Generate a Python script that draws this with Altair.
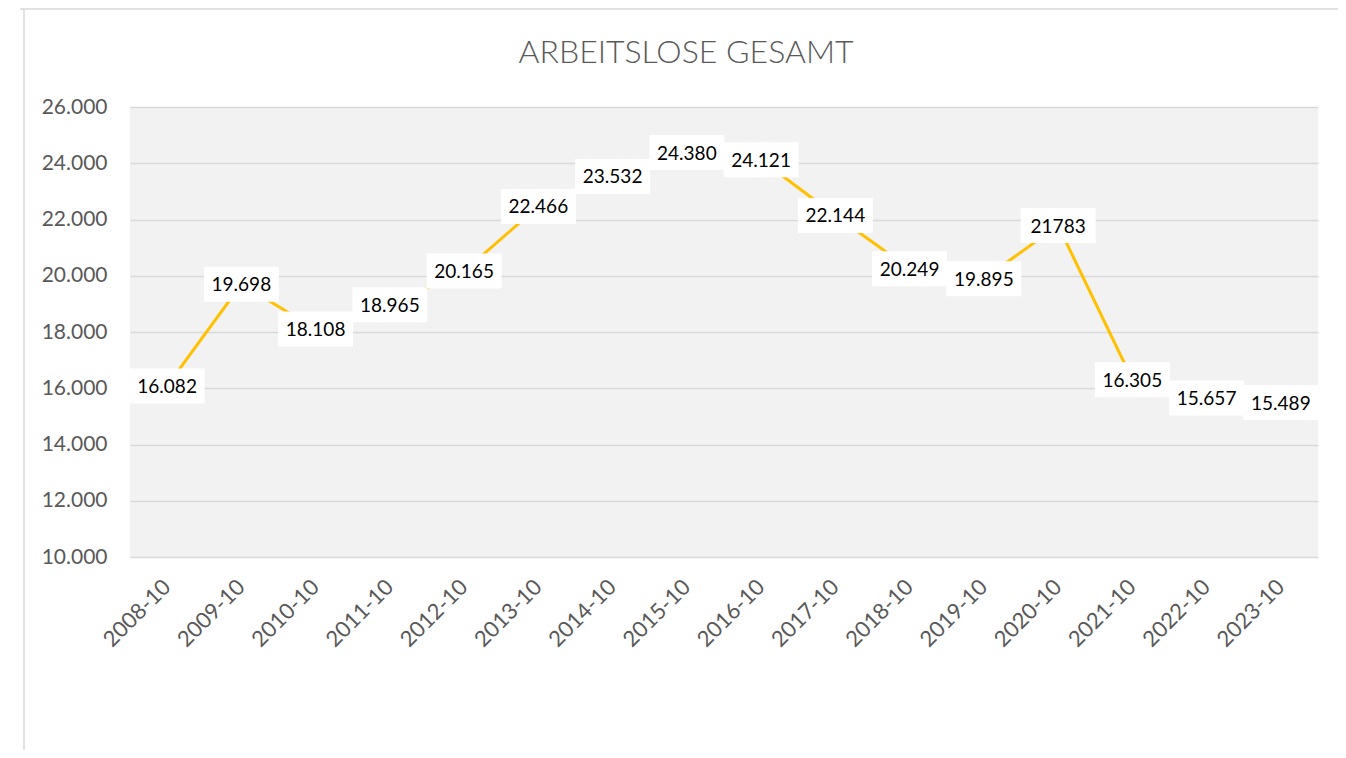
import altair as alt
import pandas as pd

months = ["2008-10", "2009-10", "2010-10", "2011-10", "2012-10", "2013-10", "2014-10", "2015-10",
          "2016-10", "2017-10", "2018-10", "2019-10", "2020-10", "2021-10", "2022-10", "2023-10"]
values = [16082, 19698, 18108, 18965, 20165, 22466, 23532, 24380,
          24121, 22144, 20249, 19895, 21783, 16305, 15657, 15489]
labels = ["16.082", "19.698", "18.108", "18.965", "20.165", "22.466", "23.532", "24.380",
          "24.121", "22.144", "20.249", "19.895", "21783", "16.305", "15.657", "15.489"]
y_ticks = [10000, 12000, 14000, 16000, 18000, 20000, 22000, 24000, 26000]
title_text = "ARBEITSLOSE GESAMT"

df = pd.DataFrame({"month": months, "value": values, "label": labels})

FONT = "Lato"
GRAY = "#595959"

x_enc = alt.X(
    "month:N", sort=months,
    scale=alt.Scale(paddingInner=0, paddingOuter=0),
    axis=alt.Axis(title=None, labelAngle=-45, labelAlign="right", labelBaseline="middle",
                  labelFontSize=22, labelColor=GRAY, labelFont=FONT, labelPadding=26,
                  ticks=False, domain=False, grid=False),
)
y_enc = alt.Y(
    "value:Q",
    scale=alt.Scale(domain=[10000, 26000], nice=False, zero=False),
    axis=alt.Axis(title=None, values=y_ticks, labelExpr="format(datum.value/1000, '.3f')",
                  labelFontSize=21, labelColor=GRAY, labelFont=FONT, labelPadding=23,
                  ticks=False, domain=False, gridColor="#D9D9D9", gridWidth=1.5),
)

base = alt.Chart(df)
line = base.mark_line(color="#FFC000", strokeWidth=3).encode(x=x_enc, y=y_enc)
boxes = base.mark_rect(color="white", width=75, height=35).encode(
    x=alt.X("month:N", sort=months), y=alt.Y("value:Q"))
texts = base.mark_text(font=FONT, fontSize=19, color="black", baseline="middle", dy=1).encode(
    x=alt.X("month:N", sort=months), y=alt.Y("value:Q"), text="label:N")

frame_data = alt.Data(values=[{"t": title_text}])
title = alt.Chart(frame_data).mark_text(font=FONT, fontSize=32, fontWeight=300, color=GRAY,
                                        align="center", baseline="alphabetic").encode(
    x=alt.value(556), y=alt.value(-44), text="t:N")
left_border = alt.Chart(frame_data).mark_rule(color="#D9D9D9", strokeWidth=1.5).encode(
    x=alt.value(-106), y=alt.value(-98), y2=alt.value(660))
top_border = alt.Chart(frame_data).mark_rule(color="#D9D9D9", strokeWidth=1.5).encode(
    x=alt.value(-110), x2=alt.value(1208), y=alt.value(-98))

chart = alt.layer(line, boxes, texts, title, left_border, top_border).properties(
    width=1188, height=450,
    autosize=alt.AutoSizeParams(type="none"),
    padding={"left": 122, "top": 99, "right": 20, "bottom": 193},
    background="white",
).configure_view(fill="#F2F2F2", strokeWidth=0)

chart.save("out.html", embed_options={"renderer": "svg", "actions": False})
